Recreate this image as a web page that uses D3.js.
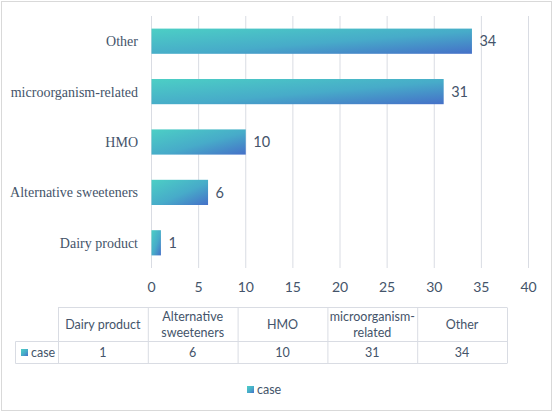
<!DOCTYPE html>
<html>
<head>
<meta charset="utf-8">
<script src="https://cdn.jsdelivr.net/npm/d3@7"></script>
<style>
  body { margin: 0; background: #fff; }
  svg { display: block; }
</style>
</head>
<body>
<div id="chart"></div>
<script>
// data, bottom to top as in the table
var categories = ["Dairy product", "Alternative sweeteners", "HMO", "microorganism-related", "Other"];
var tableHeads = [["Dairy product"], ["Alternative", "sweeteners"], ["HMO"], ["microorganism-", "related"], ["Other"]];
var caseValues = [1, 6, 10, 31, 34];
var xTicks = [0, 5, 10, 15, 20, 25, 30, 35, 40];
var seriesName = "case";

var W = 553, H = 412;
var txt = "#44546a";
var sans = "Lato, 'Open Sans', sans-serif";

var svg = d3.select("#chart").append("svg")
  .attr("width", W).attr("height", H);

// gradient for bars
var defs = svg.append("defs");
var grad = defs.append("linearGradient")
  .attr("id", "barGrad")
  .attr("x1", 0).attr("y1", 0).attr("x2", 1).attr("y2", 1);
grad.append("stop").attr("offset", "0%").attr("stop-color", "#4ccfc5");
grad.append("stop").attr("offset", "55%").attr("stop-color", "#47abc9");
grad.append("stop").attr("offset", "100%").attr("stop-color", "#4570c8");

// outer frame
svg.append("rect")
  .attr("x", 1.5).attr("y", 1.5)
  .attr("width", W - 3).attr("height", H - 3)
  .attr("fill", "none").attr("stroke", "#d9d9d9");

var x = d3.scaleLinear().domain([0, 40]).range([151, 528]);
var y = d3.scaleBand()
  .domain(categories.slice().reverse())
  .range([16, 268])
  .paddingInner(0.5).paddingOuter(0.25);

// grid
svg.append("g").selectAll("line")
  .data(xTicks)
  .join("line")
  .attr("x1", d => x(d) + 0.5).attr("x2", d => x(d) + 0.5)
  .attr("y1", 16).attr("y2", 268)
  .attr("stroke", "#d9dce3").attr("stroke-width", 1);

// bars
svg.append("g").selectAll("rect")
  .data(categories)
  .join("rect")
  .attr("x", x(0) + 0.5)
  .attr("y", d => y(d))
  .attr("width", (d, i) => x(caseValues[i]) - x(0))
  .attr("height", y.bandwidth())
  .attr("fill", "url(#barGrad)");

// value labels
svg.append("g").selectAll("text")
  .data(categories)
  .join("text")
  .attr("x", (d, i) => x(caseValues[i]) + 8)
  .attr("y", d => y(d) + y.bandwidth() / 2)
  .attr("dy", "0.36em")
  .attr("font-family", sans).attr("font-size", 14.5)
  .attr("fill", txt)
  .text((d, i) => caseValues[i]);

// category labels
svg.append("g").selectAll("text")
  .data(categories)
  .join("text")
  .attr("x", 138)
  .attr("y", d => y(d) + y.bandwidth() / 2)
  .attr("dy", "0.35em")
  .attr("text-anchor", "end")
  .attr("font-family", "'Liberation Serif', 'Times New Roman', serif")
  .attr("font-size", 14)
  .attr("fill", txt)
  .text(d => d);

// x axis labels
var xAxis = d3.axisBottom(x).tickValues(xTicks).tickSize(0).tickPadding(0);
var ax = svg.append("g").attr("transform", "translate(0,282)").call(xAxis);
ax.select(".domain").remove();
ax.selectAll("text")
  .attr("font-family", sans).attr("font-size", 14)
  .attr("fill", txt).attr("dy", "0.71em");

// data table
var colX = d3.scaleBand().domain(d3.range(categories.length)).range([58, 507]);
var rowTop = 307.5, rowMid = 341.5, rowBot = 363.5, left = 15.5;
var lineColor = "#d9dce3";
var tbl = svg.append("g").attr("stroke", lineColor).attr("fill", "none");
tbl.append("line").attr("x1", colX(0)).attr("x2", 507).attr("y1", rowTop).attr("y2", rowTop);
tbl.append("line").attr("x1", left).attr("x2", 507).attr("y1", rowMid).attr("y2", rowMid);
tbl.append("line").attr("x1", left).attr("x2", 507).attr("y1", rowBot).attr("y2", rowBot);
tbl.append("line").attr("x1", left).attr("x2", left).attr("y1", rowMid).attr("y2", rowBot);
tbl.selectAll("line.v")
  .data(d3.range(categories.length + 1))
  .join("line")
  .attr("class", "v")
  .attr("x1", i => (i < categories.length ? colX(i) : 507) + 0.5)
  .attr("x2", i => (i < categories.length ? colX(i) : 507) + 0.5)
  .attr("y1", rowTop).attr("y2", rowBot);

var heads = svg.append("g").selectAll("text")
  .data(tableHeads)
  .join("text")
  .attr("text-anchor", "middle")
  .attr("font-family", sans).attr("font-size", 12.5)
  .attr("fill", txt)
  .attr("x", (d, i) => colX(i) + colX.bandwidth() / 2)
  .attr("y", d => d.length === 1 ? 328.5 : 320.5);
heads.selectAll("tspan")
  .data(d => d)
  .join("tspan")
  .attr("x", function () { return d3.select(this.parentNode).attr("x"); })
  .attr("dy", (d, i) => i === 0 ? 0 : 16)
  .text(d => d);

svg.append("g").selectAll("text")
  .data(caseValues)
  .join("text")
  .attr("text-anchor", "middle")
  .attr("font-family", sans).attr("font-size", 12.5)
  .attr("fill", txt)
  .attr("x", (d, i) => colX(i) + colX.bandwidth() / 2)
  .attr("y", 357)
  .text(d => d);

// series key in table
svg.append("rect").attr("x", 21).attr("y", 349).attr("width", 7).attr("height", 7)
  .attr("fill", "url(#barGrad)");
svg.append("text").attr("x", 31).attr("y", 357)
  .attr("font-family", sans).attr("font-size", 12.5).attr("fill", txt)
  .text(seriesName);

// legend
svg.append("rect").attr("x", 247).attr("y", 386).attr("width", 7).attr("height", 7)
  .attr("fill", "url(#barGrad)");
svg.append("text").attr("x", 257).attr("y", 394)
  .attr("font-family", sans).attr("font-size", 12.5).attr("fill", txt)
  .text(seriesName);
</script>
</body>
</html>
